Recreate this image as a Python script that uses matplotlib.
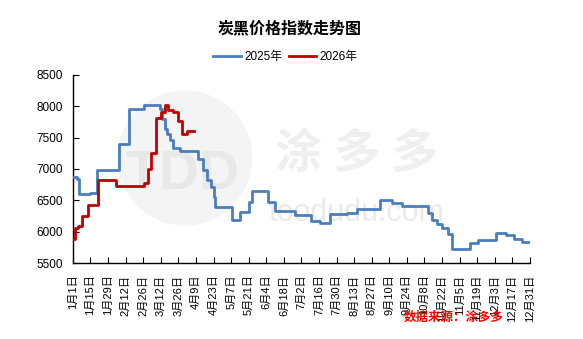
import matplotlib
matplotlib.use('Agg')
import matplotlib.pyplot as plt
from matplotlib.patches import Ellipse

# day of year (0 = Jan 1) where the index changes, and the new value
days_2025 = [0, 3, 5, 14, 19, 37, 44.5, 57, 69, 71, 73, 75, 77, 80, 85, 100, 104, 107,
             110, 112, 113, 127, 133, 140, 143, 155, 161, 177, 190, 197, 204.5, 218, 226,
             244.5, 254, 262, 283, 286, 290, 294, 299, 302, 316, 322.7, 337, 345, 351, 358, 364]
price_2025 = [6880, 6840, 6600, 6625, 6990, 7400, 7960, 8015, 7960, 7800, 7640, 7560, 7460,
              7330, 7290, 7160, 6990, 6820, 6720, 6560, 6390, 6190, 6320, 6480, 6650, 6480,
              6330, 6265, 6180, 6140, 6285, 6305, 6360, 6505, 6455, 6415, 6300, 6190, 6125,
              6055, 5965, 5725, 5820, 5870, 5985, 5950, 5885, 5840, 5840]

days_2026 = [0, 2, 4, 7, 12, 20, 34, 57, 60, 62, 66, 70, 73.5, 76, 80, 84, 87, 91, 96.5]
price_2026 = [5880, 6060, 6090, 6260, 6430, 6820, 6730, 6770, 7000, 7250, 7810, 7910, 8015,
              7940, 7910, 7770, 7560, 7610, 7610]

tick_labels = ['1月1日', '1月15日', '1月29日', '2月12日', '2月26日', '3月12日', '3月26日',
               '4月9日', '4月23日', '5月7日', '5月21日', '6月4日', '6月18日', '7月2日',
               '7月16日', '7月30日', '8月13日', '8月27日', '9月10日', '9月24日', '10月8日',
               '10月22日', '11月5日', '11月19日', '12月3日', '12月17日', '12月31日']

blue = '#4a7ebf'
red = '#c00000'

plt.rcParams['font.family'] = ['Liberation Sans', 'Noto Sans CJK SC']

fig = plt.figure(figsize=(5.83, 3.39), dpi=100)
ax = fig.add_axes([0.125, 0.223, 0.784, 0.557])
ax.set_zorder(1)  # keep the axes above the watermark
ax.patch.set_alpha(0)

# faint watermark (logo circle, TDD, 涂多多, toodudu.com)
fig.add_artist(Ellipse((0.317, 0.534), width=135 / 583, height=135 / 339,
                       transform=fig.transFigure, fc='#f4f4f4', ec='none', zorder=0))
fig.text(0.313, 0.485, 'TDD', fontsize=40, fontweight='bold', color='#e8e8e8',
         ha='center', va='center', zorder=0.5)
fig.text(0.612, 0.545, '涂 多 多', fontsize=34, fontweight='bold', color='#efefef',
         family=['Noto Sans CJK SC'], ha='center', va='center', zorder=0.5)
fig.text(0.612, 0.372, 'toodudu.com', fontsize=22, color='#eaeaea',
         ha='center', va='center', zorder=0.5)

ax.plot(days_2025, price_2025, drawstyle='steps-post', color=blue, lw=2.0,
        label='2025年', zorder=3)
ax.plot(days_2026, price_2026, drawstyle='steps-post', color=red, lw=2.0,
        label='2026年', zorder=4)

ax.set_xlim(0, 364)
ax.set_ylim(5500, 8500)
ax.set_yticks(range(5500, 8501, 500))
ax.set_xticks(range(0, 365, 14))
ax.set_xticklabels(tick_labels, rotation=90, fontsize=8)
ax.tick_params(axis='y', direction='in', length=4, labelsize=8.5, pad=7)
ax.tick_params(axis='x', direction='in', length=4, pad=8)
for s in ['top', 'right']:
    ax.spines[s].set_visible(False)
for s in ['left', 'bottom']:
    ax.spines[s].set_linewidth(1.0)

fig.text(0.496, 0.917, '炭黑价格指数走势图', fontsize=11.5, fontweight='bold',
         family=['Noto Sans CJK SC'], ha='center', va='center')
fig.legend(loc='center', bbox_to_anchor=(0.49, 0.832), ncol=2, frameon=False,
           fontsize=8.5, handlelength=2.3, handletextpad=0.3, columnspacing=0.6)

# source note sits on top of the date labels, as in the original
fig.text(0.779, 0.065, '数据来源：涂多多', fontsize=9, fontweight='bold', color='#ff0000',
         family=['Noto Sans CJK SC'], ha='center', va='center', zorder=10)

fig.savefig('out.png', dpi=100)
